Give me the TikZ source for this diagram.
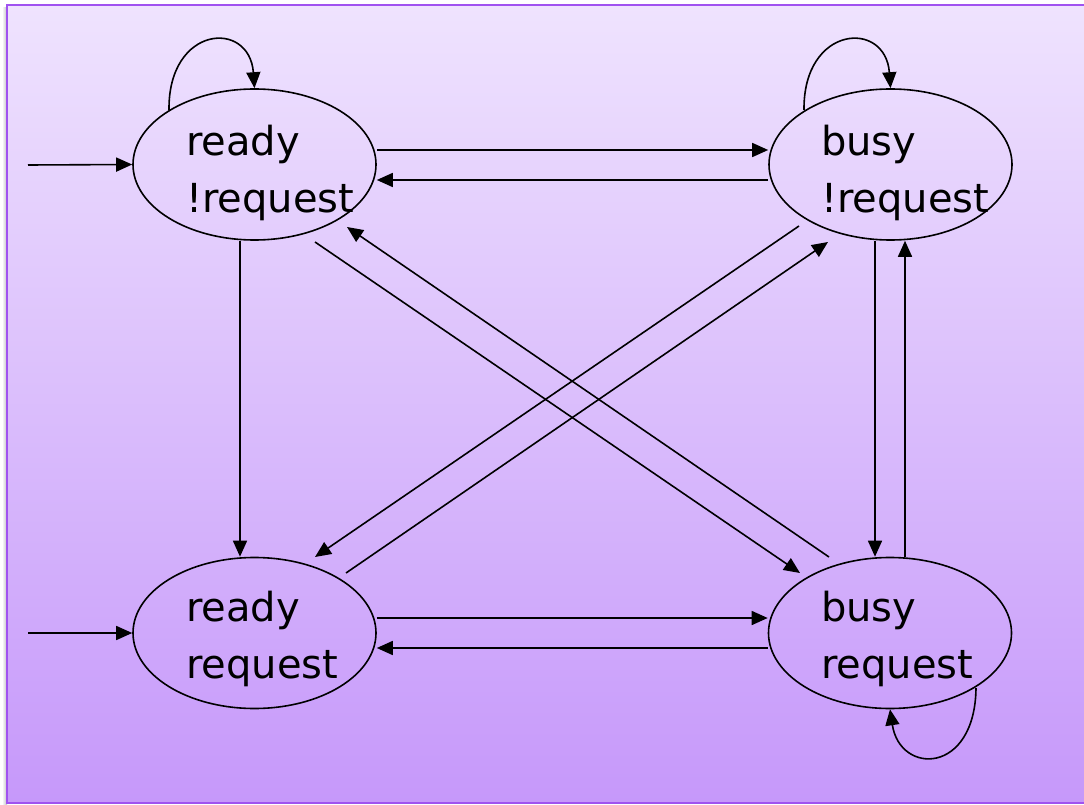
\documentclass[tikz,border=0pt]{standalone}
\usepackage{fontspec}
\setmainfont{DejaVu Sans}
\usetikzlibrary{arrows.meta,shapes.geometric,calc}
\definecolor{topc}{RGB}{239,227,254}
\definecolor{botc}{RGB}{198,152,250}
\definecolor{framec}{RGB}{160,82,240}
\begin{document}
\begin{tikzpicture}[x=1pt,y=-1pt,
  st/.style={ellipse,draw,line width=1.6pt,minimum width=243pt,minimum height=151pt,inner sep=0pt},
  lbl/.style={font=\fontsize{40}{57}\selectfont,align=left,inner sep=0pt,anchor=base west},
  ar/.style={line width=1.6pt,-{Triangle[length=16pt,width=14pt]}}]
\useasboundingbox (0,0) rectangle (1084,805);
\fill[white] (0,0) rectangle (1084,805);
\shade[left color=white,right color=black!25] (2,8) rectangle (7,805);
\shade[top color=topc,bottom color=botc] (7,5) rectangle (1090,803);
\draw[framec,line width=2pt] (7,5) rectangle (1090,803);
% states
\node[st] (tl) at (254.5,164.5) {};
\node[st] (tr) at (890.5,164.5) {};
\node[st] (bl) at (254.5,633) {};
\node[st] (br) at (890,633) {};
\node[lbl] (tlt) at (186,212) {ready\\!request};
\node[lbl] (trt) at (821,212) {busy\\!request};
\node[lbl] (blt) at (186,678) {ready\\request};
\node[lbl] (brt) at (821,678) {busy\\request};
% initial arrows
\coordinate (in1) at (28,165);
\coordinate (in2) at (28,633);
\draw[ar] (in1) -- (tl.west);
\draw[ar] (in2) -- (bl.west);
% horizontal
\draw[ar] ($(tl.east)+(0,-14.5)$) -- ($(tr.west)+(0,-14.5)$);
\draw[ar] ($(tr.west)+(0,15.5)$) -- ($(tl.east)+(0,15.5)$);
\draw[ar] ($(bl.east)+(0,-15)$) -- ($(br.west)+(0,-15)$);
\draw[ar] ($(br.west)+(0,15)$) -- ($(bl.east)+(0,15)$);
% vertical
\draw[ar] ($(tl.south)+(-14.5,0)$) -- ($(bl.north)+(-14.5,0)$);
\draw[ar] ($(tr.south)+(-15.5,0)$) -- ($(br.north)+(-15,0)$);
\draw[ar] ($(br.north)+(15,0)$) -- ($(tr.south)+(14.5,0)$);
% diagonals
\draw[ar] ($(tl.center)+(60.5,77.5)$) -- ($(br.center)+(-90,-60)$);
\draw[ar] ($(br.center)+(-61,-76)$) -- ($(tl.center)+(92.5,62.5)$);
\draw[ar] ($(tr.center)+(-91.5,61.5)$) -- ($(bl.center)+(60.5,-76)$);
\draw[ar] ($(bl.center)+(91.5,-60)$) -- ($(tr.center)+(-62.5,77.5)$);
% self loops
\draw[ar] ($(tl.center)+(-85.5,-54.5)$) .. controls +(-1,-85) and +(-5,-69) .. (tl.north);
\draw[ar] ($(tr.center)+(-86.5,-54.5)$) .. controls +(-1,-85) and +(-5,-69) .. (tr.north);
\draw[ar] ($(br.center)+(86,55)$) .. controls +(-1,87) and +(10,66) .. (br.south);
\end{tikzpicture}
\end{document}
